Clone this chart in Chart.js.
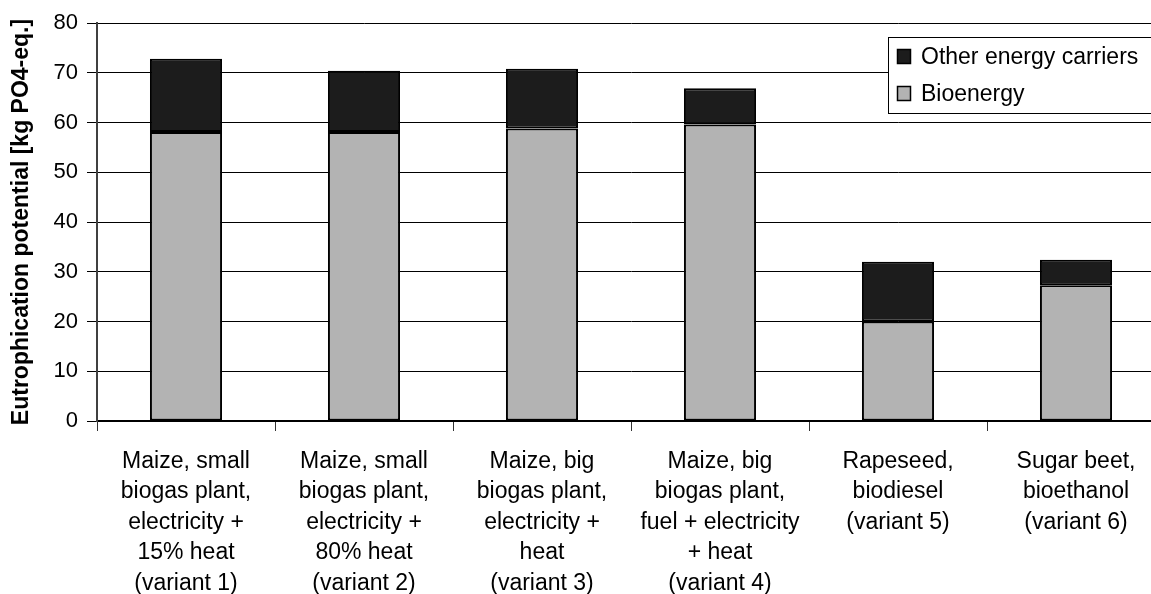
<!DOCTYPE html>
<html>
<head>
<meta charset="utf-8">
<script src="https://cdn.jsdelivr.net/npm/chart.js@4.4.1/dist/chart.umd.min.js"></script>
<style>
  html, body { margin: 0; padding: 0; background: #fff; overflow: hidden; }
  #wrap { width: 1166px; height: 594px; position: relative; }
</style>
</head>
<body>
<div id="wrap"><canvas id="chart"></canvas></div>
<script>
// categories (multi-line labels)
const categories = [
    ['Maize, small', 'biogas plant,', 'electricity +', '15% heat', '(variant 1)'],
    ['Maize, small', 'biogas plant,', 'electricity +', '80% heat', '(variant 2)'],
    ['Maize, big', 'biogas plant,', 'electricity +', 'heat', '(variant 3)'],
    ['Maize, big', 'biogas plant,', 'fuel + electricity', '+ heat', '(variant 4)'],
    ['Rapeseed,', 'biodiesel', '(variant 5)'],
    ['Sugar beet,', 'bioethanol', '(variant 6)']
];

// series values
const bioenergy = [58.1, 58.1, 58.8, 59.6, 20.0, 27.3];
const otherCarriers = [14.7, 12.3, 12.0, 7.3, 12.0, 5.1];

const yTicks = [0, 10, 20, 30, 40, 50, 60, 70, 80];
const yTitle = 'Eutrophication potential [kg PO4-eq.]';

const FONT = "'Liberation Sans', Arial, sans-serif";

// legend box drawn inside the plot, top right (like the original)
const boxLegend = {
    id: 'boxLegend',
    afterDraw(chart) {
        const ctx = chart.ctx;
        const items = chart.data.datasets.slice().reverse();
        const x = 888, y = 37, w = 290, rowH = 37;
        ctx.save();
        ctx.fillStyle = '#fff';
        ctx.strokeStyle = '#000';
        ctx.lineWidth = 1;
        ctx.fillRect(x, y, w, rowH * items.length + 2);
        ctx.strokeRect(x + 0.5, y + 0.5, w, rowH * items.length + 2);
        ctx.font = '23px ' + FONT;
        ctx.textBaseline = 'middle';
        items.forEach((ds, i) => {
            const cy = y + 20 + i * rowH;
            ctx.fillStyle = ds.backgroundColor;
            ctx.fillRect(x + 9.5, cy - 7.5, 13, 14);
            ctx.strokeStyle = '#000';
            ctx.lineWidth = 1.5;
            ctx.strokeRect(x + 9.5, cy - 7.5, 13, 14);
            ctx.fillStyle = '#000';
            ctx.fillText(ds.label, x + 33, cy + 1);
        });
        ctx.restore();
    }
};

new Chart(document.getElementById('chart'), {
    type: 'bar',
    data: {
        labels: categories,
        datasets: [
            {
                label: 'Bioenergy',
                data: bioenergy,
                backgroundColor: '#b3b3b3',
                borderColor: '#000',
                borderWidth: 2,
                borderSkipped: false
            },
            {
                label: 'Other energy carriers',
                data: otherCarriers,
                backgroundColor: '#1c1c1c',
                borderColor: '#000',
                borderWidth: 2,
                borderSkipped: false
            }
        ]
    },
    options: {
        responsive: true,
        maintainAspectRatio: false,
        animation: false,
        layout: { padding: { top: 23, left: 0, right: 1, bottom: 0 } },
        datasets: {
            bar: { categoryPercentage: 1, barPercentage: 0.405 }
        },
        plugins: {
            legend: { display: false },
            tooltip: { enabled: false }
        },
        scales: {
            x: {
                stacked: true,
                grid: {
                    display: true,
                    drawOnChartArea: false,
                    drawTicks: true,
                    tickLength: 10,
                    color: '#333',
                    lineWidth: 1
                },
                border: { display: true, color: '#000', width: 2 },
                ticks: {
                    color: '#000',
                    padding: 15,
                    maxRotation: 0,
                    autoSkip: false,
                    font: { family: FONT, size: 23, lineHeight: '30.5px' }
                },
                afterFit(scale) { scale.height = 173; }
            },
            y: {
                stacked: true,
                min: 0,
                max: 80,
                afterBuildTicks(scale) {
                    scale.ticks = yTicks.map(v => ({ value: v }));
                },
                grid: {
                    color: '#000',
                    lineWidth: 1,
                    tickLength: 10
                },
                border: { display: true, color: '#404040', width: 2 },
                ticks: {
                    color: '#000',
                    padding: 9,
                    font: { family: FONT, size: 22 }
                },
                title: {
                    display: true,
                    text: yTitle,
                    color: '#000',
                    padding: { top: 8, bottom: 0 },
                    font: { family: FONT, size: 23, weight: 'bold' }
                },
                afterFit(scale) { scale.width = 97; }
            }
        }
    },
    plugins: [boxLegend]
});
</script>
</body>
</html>
